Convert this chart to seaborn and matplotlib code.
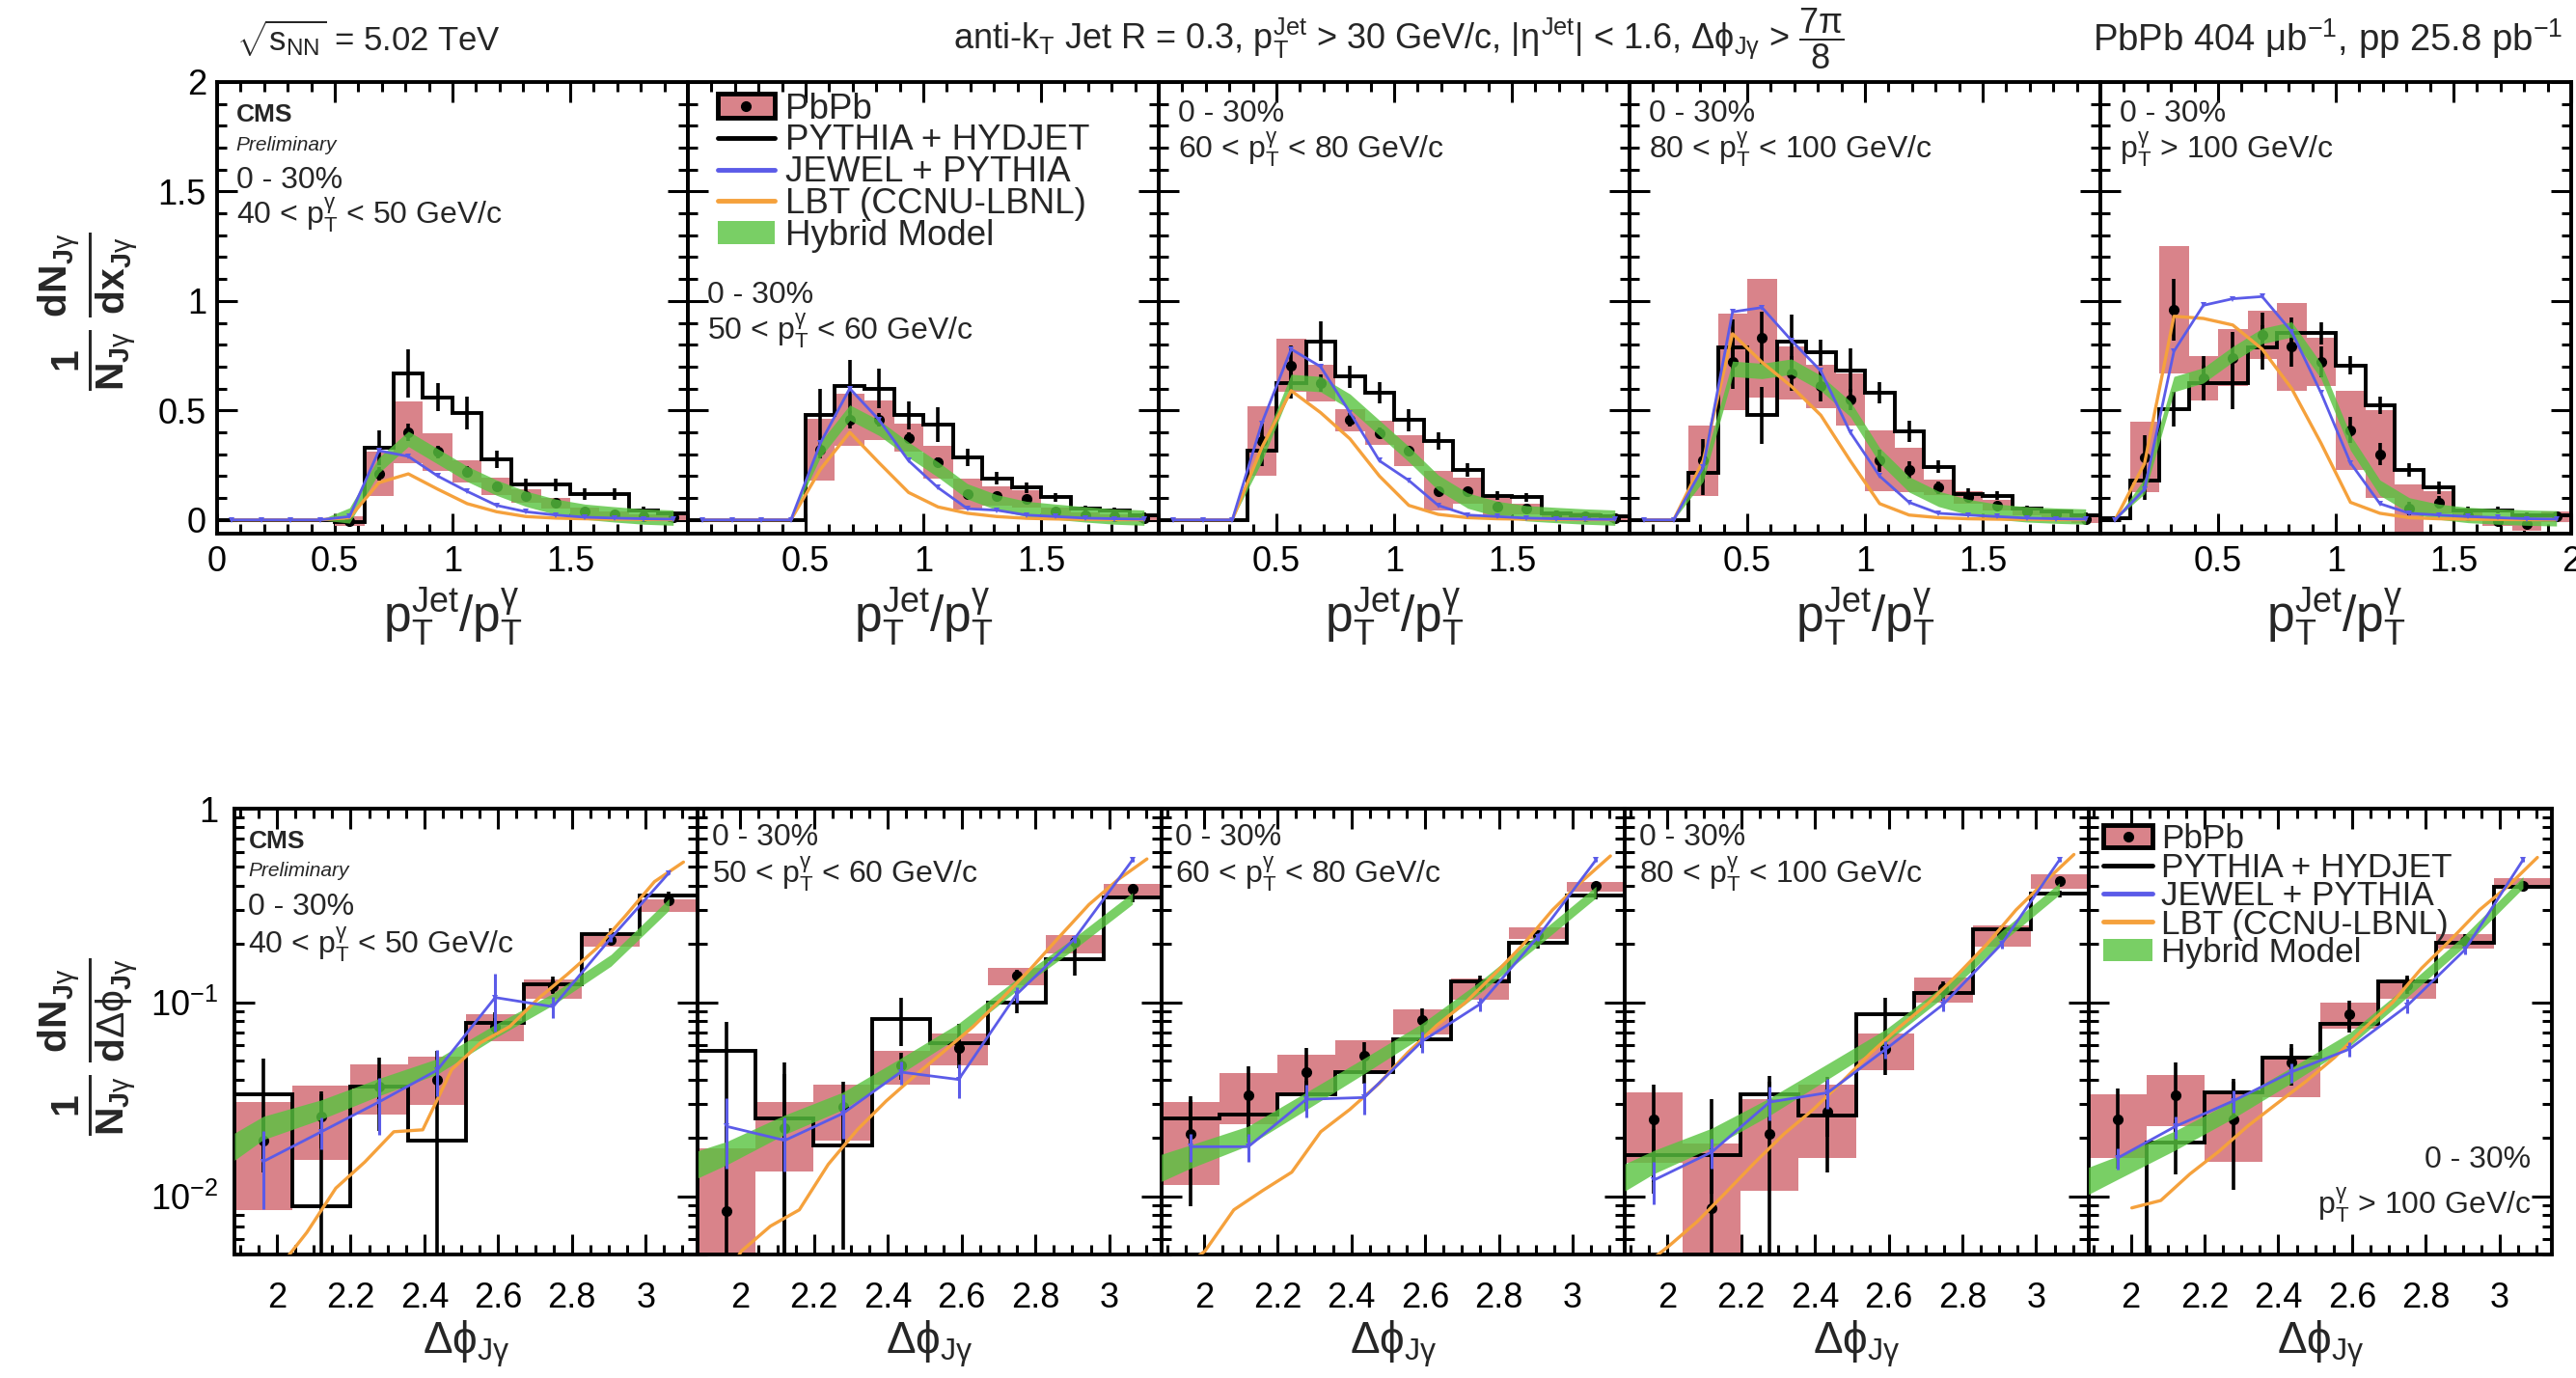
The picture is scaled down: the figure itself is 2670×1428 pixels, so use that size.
import numpy as np
import matplotlib
matplotlib.use("Agg")
import matplotlib.pyplot as plt
import seaborn as sns
from matplotlib.patches import Patch, Rectangle
from matplotlib.lines import Line2D
from matplotlib.ticker import MultipleLocator, FuncFormatter, LogLocator, NullFormatter, FixedLocator

sns.set_theme(style="ticks")
plt.rcParams['font.family'] = ['Liberation Sans', 'DejaVu Sans']
plt.rcParams['mathtext.fontset'] = 'custom'
plt.rcParams['mathtext.rm'] = 'Liberation Sans'
plt.rcParams['mathtext.it'] = 'Liberation Sans'
plt.rcParams['mathtext.bf'] = 'Liberation Sans:bold'

nan = np.nan
RED = '#d9838a'
GREEN = '#58c43f'
BLUE = '#5b5be8'
ORANGE = '#f5a13c'

# ---------------- x_Jgamma distributions (16 bins from 0 to 2) ----------------
pt_labels = [r'40 < p$_{\rm T}^{\gamma}$ < 50 GeV/c', r'50 < p$_{\rm T}^{\gamma}$ < 60 GeV/c',
             r'60 < p$_{\rm T}^{\gamma}$ < 80 GeV/c', r'80 < p$_{\rm T}^{\gamma}$ < 100 GeV/c',
             r'p$_{\rm T}^{\gamma}$ > 100 GeV/c']
centrality = '0 - 30%'

xj_pbpb = [
    [nan, nan, nan, nan, -0.007, 0.21, 0.40, 0.31, 0.22, 0.154, 0.11, 0.076, 0.037, 0.025, 0.015, 0.01],
    [nan, nan, nan, nan, 0.32, 0.456, 0.456, 0.375, 0.265, 0.118, 0.11, 0.096, 0.037, 0.022, 0.015, 0.007],
    [nan, nan, nan, 0.36, 0.706, 0.625, 0.456, 0.397, 0.316, 0.132, 0.132, 0.059, 0.05, 0.022, 0.015, 0.007],
    [nan, nan, 0.27, 0.72, 0.83, 0.67, 0.61, 0.55, 0.27, 0.228, 0.147, 0.103, 0.066, 0.037, 0.025, 0.005],
    [nan, 0.287, 0.96, 0.647, 0.74, 0.845, 0.79, 0.72, 0.41, 0.30, 0.051, 0.08, 0.022, -0.007, -0.02, 0.015],
]
xj_pbpb_stat = [
    [nan, nan, nan, nan, 0.01, 0.03, 0.04, 0.03, 0.025, 0.02, 0.015, 0.012, 0.01, 0.008, 0.006, 0.005],
    [nan, nan, nan, nan, 0.04, 0.04, 0.03, 0.025, 0.02, 0.015, 0.012, 0.01, 0.008, 0.006, 0.005, 0.004],
    [nan, nan, nan, 0.08, 0.09, 0.04, 0.03, 0.025, 0.02, 0.02, 0.015, 0.012, 0.01, 0.008, 0.006, 0.005],
    [nan, nan, 0.1, 0.12, 0.12, 0.08, 0.07, 0.05, 0.05, 0.04, 0.03, 0.02, 0.015, 0.01, 0.008, 0.005],
    [nan, 0.1, 0.14, 0.1, 0.12, 0.1, 0.09, 0.07, 0.06, 0.05, 0.03, 0.03, 0.015, 0.015, 0.015, 0.01],
]
xj_pbpb_syst = [
    [nan, nan, nan, nan, 0.022, 0.10, 0.14, 0.085, 0.05, 0.04, 0.03, 0.025, 0.02, 0.012, 0.01, 0.01],
    [nan, nan, nan, nan, 0.14, 0.12, 0.09, 0.065, 0.075, 0.07, 0.045, 0.04, 0.02, 0.012, 0.01, 0.008],
    [nan, nan, nan, 0.16, 0.12, 0.085, 0.05, 0.055, 0.07, 0.09, 0.06, 0.04, 0.025, 0.015, 0.02, 0.01],
    [nan, nan, 0.16, 0.22, 0.27, 0.12, 0.10, 0.12, 0.14, 0.10, 0.035, 0.03, 0.025, 0.015, 0.012, 0.02],
    [nan, 0.16, 0.29, 0.1, 0.13, 0.11, 0.2, 0.11, 0.18, 0.2, 0.11, 0.05, 0.025, 0.02, 0.03, 0.025],
]
xj_hydjet = [
    [0, 0, 0, 0, -0.01, 0.33, 0.67, 0.56, 0.49, 0.275, 0.16, 0.16, 0.118, 0.118, 0.044, 0.03],
    [0, 0, 0, 0, 0.478, 0.61, 0.60, 0.478, 0.434, 0.287, 0.19, 0.147, 0.103, 0.051, 0.044, 0.022],
    [0, 0, 0, 0.316, 0.625, 0.816, 0.654, 0.58, 0.456, 0.36, 0.228, 0.11, 0.103, 0.03, 0.022, 0.015],
    [0, 0, 0.213, 0.787, 0.478, 0.816, 0.765, 0.684, 0.58, 0.404, 0.243, 0.118, 0.11, 0.051, 0.037, 0.022],
    [0.007, 0.18, 0.507, 0.625, 0.625, 0.787, 0.853, 0.853, 0.706, 0.522, 0.228, 0.147, 0.044, 0.044, 0.022, 0.022],
]
xj_hydjet_err = [
    [0, 0, 0, 0, 0.01, 0.08, 0.11, 0.065, 0.075, 0.04, 0.03, 0.03, 0.025, 0.025, 0.015, 0.01],
    [0, 0, 0, 0, 0.12, 0.12, 0.09, 0.065, 0.08, 0.04, 0.03, 0.025, 0.02, 0.015, 0.012, 0.01],
    [0, 0, 0, 0.07, 0.07, 0.09, 0.05, 0.05, 0.05, 0.04, 0.03, 0.02, 0.02, 0.012, 0.01, 0.008],
    [0, 0, 0.1, 0.13, 0.13, 0.12, 0.06, 0.1, 0.05, 0.05, 0.03, 0.025, 0.02, 0.015, 0.012, 0.01],
    [0.005, 0.09, 0.08, 0.08, 0.12, 0.1, 0.07, 0.05, 0.04, 0.04, 0.03, 0.03, 0.015, 0.015, 0.01, 0.01],
]
xj_jewel = [
    [0, 0, 0, 0, 0.015, 0.316, 0.29, 0.2, 0.13, 0.066, 0.037, 0.022, 0.012, 0.008, 0.005, 0.003],
    [0, 0, 0, 0, 0.35, 0.6, 0.456, 0.27, 0.147, 0.051, 0.044, 0.022, 0.015, 0.008, 0.005, 0.003],
    [0, 0, 0, 0.44, 0.78, 0.70, 0.49, 0.27, 0.18, 0.066, 0.022, 0.015, 0.008, 0.005, 0.003, 0.002],
    [0, 0, 0.24, 0.95, 0.97, 0.82, 0.68, 0.40, 0.20, 0.08, 0.03, 0.022, 0.015, 0.008, 0.005, 0.003],
    [0, 0.14, 0.77, 0.98, 1.01, 1.02, 0.86, 0.58, 0.26, 0.074, 0.03, 0.022, 0.015, 0.01, 0.005, 0.003],
]
xj_lbt = [
    [0, 0, 0, 0, 0.01, 0.17, 0.21, 0.14, 0.074, 0.037, 0.015, 0.008, 0.005, 0.003, 0.002, 0.001],
    [0, 0, 0, 0, 0.23, 0.40, 0.26, 0.125, 0.059, 0.03, 0.015, 0.007, 0.004, 0.002, 0.001, 0.001],
    [0, 0, 0, 0.33, 0.59, 0.49, 0.37, 0.20, 0.066, 0.025, 0.01, 0.005, 0.003, 0.002, 0.001, 0.001],
    [0, 0, 0.27, 0.85, 0.72, 0.61, 0.478, 0.27, 0.074, 0.022, 0.01, 0.005, 0.003, 0.002, 0.001, 0.001],
    [0, 0.257, 0.93, 0.92, 0.89, 0.78, 0.60, 0.35, 0.08, 0.03, 0.01, 0.005, 0.003, 0.002, 0.001, 0.001],
]
xj_hybrid = [
    [0, 0, 0, 0, 0.02, 0.25, 0.37, 0.29, 0.21, 0.147, 0.096, 0.06, 0.037, 0.025, 0.015, 0.01],
    [0, 0, 0, 0, 0.32, 0.49, 0.42, 0.32, 0.23, 0.13, 0.08, 0.05, 0.037, 0.025, 0.015, 0.01],
    [0, 0, 0, 0.30, 0.63, 0.62, 0.54, 0.42, 0.30, 0.17, 0.088, 0.05, 0.03, 0.022, 0.015, 0.01],
    [0, 0, 0.21, 0.69, 0.68, 0.70, 0.625, 0.507, 0.294, 0.162, 0.096, 0.059, 0.037, 0.025, 0.019, 0.015],
    [0, 0.154, 0.62, 0.66, 0.757, 0.84, 0.87, 0.68, 0.353, 0.147, 0.066, 0.037, 0.022, 0.015, 0.01, 0.007],
]
xj_hybrid_halfwidth = 0.035

# ---------------- Delta phi distributions (8 bins from 3pi/5 to pi) ----------------
dphi_pbpb = [
    [0.0193, 0.0257, 0.0366, 0.040, 0.075, 0.121, 0.21, 0.335],
    [0.00836, 0.0225, 0.0288, 0.0474, 0.0584, 0.138, 0.206, 0.386],
    [0.0209, 0.033, 0.0439, 0.0531, 0.0807, 0.123, 0.222, 0.40],
    [0.0248, 0.0087, 0.0209, 0.0272, 0.0573, 0.118, 0.226, 0.424],
    [0.0248, 0.033, 0.0248, 0.0492, 0.0872, 0.123, 0.209, 0.40],
]
dphi_pbpb_stat = [
    [0.006, 0.008, 0.008, 0.008, 0.008, 0.01, 0.012, 0.015],
    [0.025, 0.02, 0.01, 0.0074, 0.008, 0.01, 0.015, 0.02],
    [0.012, 0.014, 0.014, 0.009, 0.012, 0.01, 0.012, 0.02],
    [0.013, 0.023, 0.018, 0.014, 0.015, 0.01, 0.015, 0.02],
    [0.011, 0.016, 0.014, 0.012, 0.015, 0.012, 0.015, 0.02],
]
dphi_syst_lo = [
    [0.0085, 0.0154, 0.0263, 0.0296, 0.0628, 0.104, 0.193, 0.293],
    [0.004, 0.0134, 0.0194, 0.0376, 0.0474, 0.123, 0.18, 0.357],
    [0.0114, 0.0235, 0.033, 0.043, 0.068, 0.103, 0.213, 0.371],
    [0.0148, 0.004, 0.0107, 0.0157, 0.0447, 0.10, 0.194, 0.386],
    [0.0157, 0.0229, 0.015, 0.0324, 0.0735, 0.105, 0.19, 0.386],
]
dphi_syst_hi = [
    [0.0307, 0.0374, 0.048, 0.0526, 0.0868, 0.132, 0.22, 0.342],
    [0.0176, 0.0306, 0.0376, 0.056, 0.0694, 0.151, 0.222, 0.408],
    [0.0306, 0.0432, 0.054, 0.064, 0.092, 0.133, 0.244, 0.416],
    [0.0342, 0.0186, 0.0317, 0.0376, 0.0694, 0.135, 0.249, 0.458],
    [0.0336, 0.0424, 0.0342, 0.053, 0.10, 0.13, 0.226, 0.44],
]
dphi_hydjet = [
    [0.0335, 0.0089, 0.0366, 0.0193, 0.0787, 0.124, 0.225, 0.358],
    [0.0562, 0.0252, 0.0183, 0.0824, 0.0618, 0.10, 0.167, 0.35],
    [0.0252, 0.0263, 0.0336, 0.0439, 0.0643, 0.128, 0.202, 0.357],
    [0.0163, 0.0163, 0.0336, 0.0262, 0.0872, 0.112, 0.239, 0.364],
    [0.003, 0.019, 0.0342, 0.052, 0.0778, 0.128, 0.202, 0.393],
]
dphi_hydjet_err = [
    [0.018, 0.026, 0.015, 0.037, 0.01, 0.012, 0.015, 0.015],
    [0.023, 0.024, 0.013, 0.023, 0.016, 0.012, 0.03, 0.02],
    [0.006, 0.006, 0.006, 0.006, 0.006, 0.01, 0.012, 0.015],
    [0.006, 0.006, 0.008, 0.006, 0.018, 0.01, 0.012, 0.015],
    [0.002, 0.006, 0.006, 0.006, 0.008, 0.01, 0.012, 0.015],
]
dphi_jewel = [
    [0.0151, 0.0215, 0.0307, 0.0447, 0.106, 0.095, 0.215, 0.466],
    [0.0229, 0.0194, 0.0267, 0.0437, 0.040, 0.11, 0.213, 0.543],
    [0.018, 0.018, 0.0316, 0.0323, 0.063, 0.098, 0.218, 0.543],
    [0.0121, 0.0169, 0.0306, 0.0342, 0.0573, 0.098, 0.20, 0.543],
    [0.0157, 0.0229, 0.031, 0.0437, 0.0573, 0.096, 0.187, 0.543],
]
dphi_jewel_err = [
    [0.0065, 0.004, 0.01, 0.012, 0.035, 0.012, 0.01, 0.01],
    [0.009, 0.006, 0.007, 0.006, 0.008, 0.01, 0.01, 0.01],
    [0.003, 0.003, 0.006, 0.006, 0.008, 0.008, 0.01, 0.01],
    [0.003, 0.003, 0.006, 0.006, 0.006, 0.008, 0.01, 0.01],
    [0.002, 0.003, 0.004, 0.005, 0.005, 0.008, 0.01, 0.01],
]
# LBT is given on a grid twice as fine as the data binning
dphi_lbt = [
    [0.003, 0.0042, 0.0065, 0.011, 0.015, 0.0215, 0.022, 0.045, 0.062, 0.075, 0.105, 0.14, 0.19, 0.28, 0.42, 0.53],
    [0.003, 0.0052, 0.007, 0.0085, 0.0146, 0.022, 0.031, 0.042, 0.056, 0.075, 0.105, 0.15, 0.22, 0.32, 0.43, 0.55],
    [0.004, 0.0052, 0.0085, 0.0107, 0.0133, 0.0215, 0.028, 0.038, 0.055, 0.076, 0.10, 0.14, 0.20, 0.30, 0.42, 0.57],
    [0.0042, 0.0055, 0.0074, 0.0105, 0.015, 0.021, 0.028, 0.039, 0.055, 0.075, 0.10, 0.14, 0.20, 0.30, 0.42, 0.58],
    [nan, 0.0087, 0.0095, 0.013, 0.017, 0.023, 0.03, 0.039, 0.052, 0.073, 0.10, 0.15, 0.21, 0.30, 0.40, 0.56],
]
# Hybrid model: value at the lower edge, then at each bin centre
dphi_hybrid = [
    [0.018, 0.0225, 0.028, 0.0366, 0.0467, 0.071, 0.104, 0.165, 0.32],
    [0.0146, 0.0167, 0.0234, 0.031, 0.047, 0.072, 0.123, 0.202, 0.344],
    [0.014, 0.016, 0.0205, 0.031, 0.047, 0.072, 0.12, 0.21, 0.371],
    [0.0125, 0.015, 0.02, 0.029, 0.044, 0.067, 0.114, 0.218, 0.386],
    [0.012, 0.014, 0.0194, 0.028, 0.042, 0.064, 0.114, 0.209, 0.416],
]
dphi_hybrid_logwidth = [0.07, 0.06, 0.05, 0.045, 0.04, 0.035, 0.03, 0.03, 0.03]

legend_labels = ['PbPb', 'PYTHIA + HYDJET', 'JEWEL + PYTHIA', 'LBT (CCNU-LBNL)', 'Hybrid Model']

# ---------------- binning ----------------
xj_edges = np.linspace(0.0, 2.0, 17)
xj_cent = 0.5 * (xj_edges[1:] + xj_edges[:-1])
dphi_edges = np.linspace(0.6 * np.pi, np.pi, 9)
dphi_cent = 0.5 * (dphi_edges[1:] + dphi_edges[:-1])
dphi_fine_edges = np.linspace(0.6 * np.pi, np.pi, 17)
dphi_fine = 0.5 * (dphi_fine_edges[1:] + dphi_fine_edges[:-1])
dphi_hyb_x = np.concatenate([[dphi_edges[0]], dphi_cent])

W, H = 2670, 1428
fig = plt.figure(figsize=(W / 100, H / 100), dpi=100)
fig.patch.set_facecolor('white')

TICK_FS = 26
TXT_FS = 23


def style_axes(ax):
    ax.set_facecolor('white')
    for s in ax.spines.values():
        s.set_linewidth(2.8)
        s.set_color('black')
    ax.tick_params(which='both', direction='in', top=True, right=True, width=2.2, colors='black',
                   labelsize=TICK_FS)
    ax.tick_params(which='major', length=15)
    ax.tick_params(which='minor', length=7)


def legend_handles():
    pb = (Rectangle((0, 0), 1, 1, facecolor=RED, edgecolor='black', lw=3.5),
          Line2D([], [], marker='o', color='black', ls='none', ms=7))
    return [pb,
            Line2D([], [], color='black', lw=3.5),
            Line2D([], [], color=BLUE, lw=3.5),
            Line2D([], [], color=ORANGE, lw=3.5),
            Patch(facecolor=GREEN, alpha=0.8, edgecolor='none')]


def add_legend(ax, anchor, spacing, size, hlen, hpad):
    ax.legend(legend_handles(), legend_labels, loc='upper left', bbox_to_anchor=anchor,
              frameon=False, fontsize=size, labelspacing=spacing, handlelength=hlen, handleheight=0.65,
              handletextpad=hpad, borderpad=0.1, borderaxespad=0.0)


def draw_models(ax, x_lines, jew, lbt, hyb_x, hyb, hyb_lo, hyb_hi, lbt_x, jew_err=None):
    ax.fill_between(hyb_x, hyb_lo, hyb_hi, color=GREEN, alpha=0.8, lw=0, zorder=4)
    sns.lineplot(x=lbt_x, y=lbt, ax=ax, color=ORANGE, linewidth=2.4, estimator=None, sort=False,
                 legend=False, zorder=5)
    sns.lineplot(x=x_lines, y=jew, ax=ax, color=BLUE, linewidth=2.0, marker='v', markersize=5,
                 markeredgewidth=0, estimator=None, sort=False, legend=False, zorder=6)
    if jew_err is not None:
        ax.errorbar(x_lines, jew, yerr=jew_err, fmt='none', ecolor=BLUE, elinewidth=2.2, capsize=0,
                    zorder=6)


# ---------------- top row ----------------
top_left, top_w = 225, 488
top_y0, top_h = 1 - 553 / H, 468 / H
for i in range(5):
    ax = fig.add_axes([(top_left + i * top_w) / W, top_y0, top_w / W, top_h])
    style_axes(ax)
    pb = np.array(xj_pbpb[i], float)
    syst = np.array(xj_pbpb_syst[i], float)
    stat = np.array(xj_pbpb_stat[i], float)
    ok = ~np.isnan(pb)
    ax.bar(xj_cent[ok], 2 * syst[ok], bottom=pb[ok] - syst[ok], width=0.125, color=RED, lw=0, zorder=1)
    ax.stairs(xj_hydjet[i], xj_edges, color='black', lw=2.8, baseline=None, zorder=2)
    herr = np.array(xj_hydjet_err[i], float)
    m = herr > 0
    ax.errorbar(xj_cent[m], np.array(xj_hydjet[i])[m], yerr=herr[m], fmt='none', ecolor='black',
                elinewidth=2.6, capsize=0, zorder=2)
    ax.errorbar(xj_cent[ok], pb[ok], yerr=stat[ok], fmt='o', color='black', ms=7, elinewidth=2.6,
                capsize=0, zorder=3)
    hyb = np.array(xj_hybrid[i], float)
    draw_models(ax, xj_cent, xj_jewel[i], xj_lbt[i], xj_cent, hyb,
                hyb - xj_hybrid_halfwidth * (hyb > 0), hyb + xj_hybrid_halfwidth * (hyb > 0), xj_cent)
    ax.set_xlim(0, 2)
    ax.set_ylim(-0.063, 2)
    ax.xaxis.set_major_locator(MultipleLocator(0.5))
    ax.xaxis.set_minor_locator(MultipleLocator(0.1))
    ax.yaxis.set_major_locator(MultipleLocator(0.5))
    ax.yaxis.set_minor_locator(MultipleLocator(0.1))

    def xfmt(v, pos, i=i):
        if (i > 0 and abs(v) < 1e-9) or (i < 4 and abs(v - 2) < 1e-9):
            return ''
        return '%g' % v
    ax.xaxis.set_major_formatter(FuncFormatter(xfmt))
    ax.yaxis.set_major_formatter(FuncFormatter(lambda v, p: '%g' % v))
    ax.tick_params(axis='x', which='major', pad=9)
    ax.tick_params(axis='y', which='major', pad=8)
    if i > 0:
        ax.tick_params(labelleft=False)
    ax.text(0.5, -0.185, r'p$_{\rm T}^{\rm Jet}$/p$_{\rm T}^{\gamma}$', transform=ax.transAxes,
            ha='center', va='center', fontsize=37)
    if i == 0:
        ax.text(0.04, 0.927, 'CMS', transform=ax.transAxes, fontsize=19, fontweight='bold', va='center')
        ax.text(0.04, 0.861, 'Preliminary', transform=ax.transAxes, fontsize=15, style='italic', va='center')
        ax.text(0.04, 0.782, centrality, transform=ax.transAxes, fontsize=TXT_FS, va='center')
        ax.text(0.04, 0.705, pt_labels[i], transform=ax.transAxes, fontsize=TXT_FS, va='center')
    elif i == 1:
        add_legend(ax, (0.056, 0.985), -0.06, 26.5, 1.6, 0.3)
        ax.text(0.04, 0.527, centrality, transform=ax.transAxes, fontsize=TXT_FS, va='center')
        ax.text(0.04, 0.45, pt_labels[i], transform=ax.transAxes, fontsize=TXT_FS, va='center')
    else:
        ax.text(0.04, 0.93, centrality, transform=ax.transAxes, fontsize=TXT_FS, va='center')
        ax.text(0.04, 0.85, pt_labels[i], transform=ax.transAxes, fontsize=TXT_FS, va='center')

# ---------------- bottom row ----------------
bot_left, bot_w = 243, 480.4
bot_y0, bot_h = 1 - 1300 / H, 462 / H
for i in range(5):
    ax = fig.add_axes([(bot_left + i * bot_w) / W, bot_y0, bot_w / W, bot_h])
    style_axes(ax)
    ax.set_yscale('log')
    lo = np.array(dphi_syst_lo[i])
    hi = np.array(dphi_syst_hi[i])
    ax.bar(dphi_cent, hi - lo, bottom=lo, width=np.pi / 20, color=RED, lw=0, zorder=1)
    ax.stairs(dphi_hydjet[i], dphi_edges, color='black', lw=2.8, baseline=None, zorder=2)
    ax.errorbar(dphi_cent, dphi_hydjet[i], yerr=dphi_hydjet_err[i], fmt='none', ecolor='black',
                elinewidth=2.6, capsize=0, zorder=2)
    ax.errorbar(dphi_cent, dphi_pbpb[i], yerr=dphi_pbpb_stat[i], fmt='o', color='black', ms=7,
                elinewidth=2.6, capsize=0, zorder=3)
    hyb = np.array(dphi_hybrid[i])
    wl = np.array(dphi_hybrid_logwidth)
    draw_models(ax, dphi_cent, dphi_jewel[i], dphi_lbt[i], dphi_hyb_x, hyb,
                hyb * 10 ** (-wl), hyb * 10 ** wl, dphi_fine, jew_err=dphi_jewel_err[i])
    ax.set_xlim(0.6 * np.pi, np.pi)
    ax.set_ylim(5e-3, 1)
    ax.xaxis.set_major_locator(MultipleLocator(0.2))
    ax.xaxis.set_minor_locator(MultipleLocator(0.05))
    ax.xaxis.set_major_formatter(FuncFormatter(lambda v, p: '%g' % round(v, 2)))
    ax.yaxis.set_major_locator(FixedLocator([0.01, 0.1, 1.0]))
    ax.yaxis.set_minor_locator(LogLocator(base=10, subs=np.arange(2, 10) * 1.0, numticks=20))
    ax.yaxis.set_minor_formatter(NullFormatter())
    ylab = {0.01: r'$10^{-2}$', 0.1: r'$10^{-1}$', 1.0: '1'}
    ax.yaxis.set_major_formatter(FuncFormatter(lambda v, p: ylab.get(round(v, 3), '')))
    ax.tick_params(axis='x', which='major', pad=20)
    ax.tick_params(axis='y', which='major', pad=12)
    if i > 0:
        ax.tick_params(labelleft=False)
    ax.text(0.5, -0.2, r'$\Delta\phi_{\rm J\gamma}$', transform=ax.transAxes, ha='center',
            va='center', fontsize=33)
    if i == 0:
        ax.text(0.03, 0.926, 'CMS', transform=ax.transAxes, fontsize=19, fontweight='bold', va='center')
        ax.text(0.03, 0.861, 'Preliminary', transform=ax.transAxes, fontsize=15, style='italic', va='center')
        ax.text(0.03, 0.779, centrality, transform=ax.transAxes, fontsize=TXT_FS, va='center')
        ax.text(0.03, 0.695, pt_labels[i], transform=ax.transAxes, fontsize=TXT_FS, va='center')
    elif i < 4:
        ax.text(0.03, 0.935, centrality, transform=ax.transAxes, fontsize=TXT_FS, va='center')
        ax.text(0.03, 0.853, pt_labels[i], transform=ax.transAxes, fontsize=TXT_FS, va='center')
    else:
        add_legend(ax, (0.025, 0.975), -0.1, 25.3, 1.45, 0.25)
        ax.text(0.955, 0.212, centrality, transform=ax.transAxes, fontsize=TXT_FS, va='center', ha='right')
        ax.text(0.955, 0.11, pt_labels[i], transform=ax.transAxes, fontsize=TXT_FS, va='center', ha='right')

# ---------------- axis titles and header ----------------
fig.text(92 / W, 1 - 323 / H,
         r'$\frac{\mathbf{1}}{\mathbf{N}_{\mathbf{J}\gamma}}\,\frac{\mathbf{dN}_{\mathbf{J}\gamma}}{\mathbf{dx}_{\mathbf{J}\gamma}}$',
         rotation=90, fontsize=42, ha='center', va='center')
fig.text(92 / W, 1 - 1085 / H,
         r'$\frac{\mathbf{1}}{\mathbf{N}_{\mathbf{J}\gamma}}\,\frac{\mathbf{dN}_{\mathbf{J}\gamma}}{\mathbf{d}\Delta\phi_{\mathbf{J}\gamma}}$',
         rotation=90, fontsize=42, ha='center', va='center')
fig.text(245 / W, 1 - 40 / H, r'$\sqrt{s_{\rm NN}}$ = 5.02 TeV', fontsize=25, va='center')
fig.text(1450 / W, 1 - 40 / H,
         r'anti-k$_{\rm T}$ Jet R = 0.3, p$_{\rm T}^{\rm Jet}$ > 30 GeV/c, |$\eta^{\rm Jet}$| < 1.6, '
         r'$\Delta\phi_{\rm J\gamma}$ > $\dfrac{7\pi}{8}$', fontsize=26, va='center', ha='center')
fig.text(2656 / W, 1 - 40 / H, r'PbPb 404 $\mu$b$^{-1}$, pp 25.8 pb$^{-1}$', fontsize=27.5,
         va='center', ha='right')

fig.savefig('out.png', dpi=100, facecolor='white')
